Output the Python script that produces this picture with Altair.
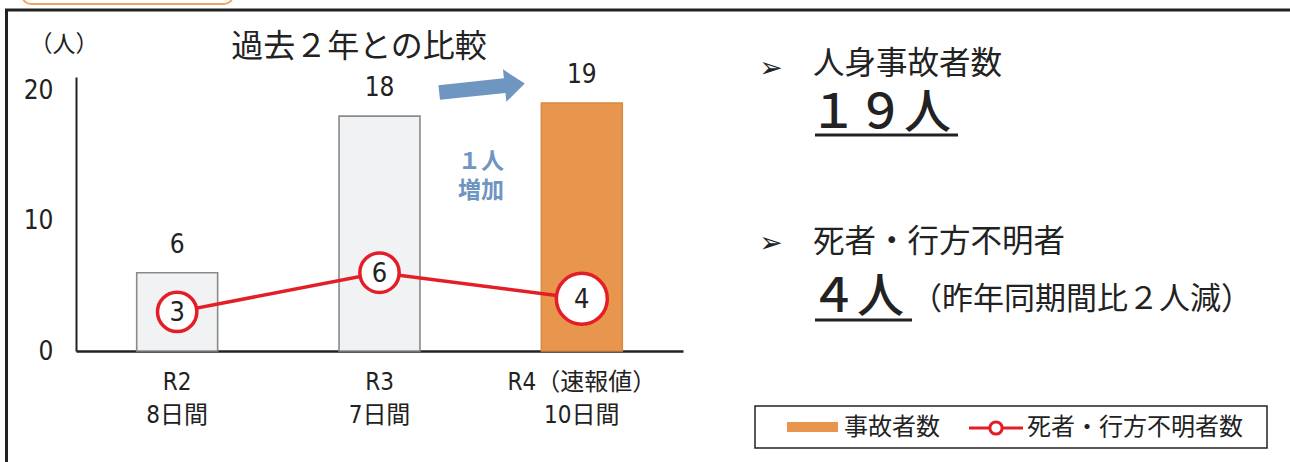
import altair as alt
import pandas as pd

# ---- data ----
periods = ["R2", "R3", "R4（速報値）"]
day_counts = ["8日間", "7日間", "10日間"]
casualties = [6, 18, 19]          # 人身事故者数
deaths_missing = [3, 6, 4]        # 死者・行方不明者数
y_ticks = [0, 10, 20]

title_text = "過去２年との比較"
unit_text = "（人）"
change_text = "１人\n増加"
summary_head1 = "人身事故者数"
summary_val1 = "１９人"
summary_head2 = "死者・行方不明者"
summary_val2 = "４人"
summary_note2 = "（昨年同期間比２人減）"
legend_bar = "事故者数"
legend_line = "死者・行方不明者数"

df = pd.DataFrame({
    "period": periods,
    "label": [p + "|" + d for p, d in zip(periods, day_counts)],
    "casualties": casualties,
    "deaths": deaths_missing,
})

NUM_FONT = "Liberation Sans Narrow, DejaVu Sans Condensed, Noto Sans CJK JP"
JP_FONT = "Noto Sans CJK JP"
ORANGE = "#e8964e"
GRAY_FILL = "#f1f2f4"
GRAY_STROKE = "#8a8a8a"
RED = "#e41e26"
BLUE = "#6f95c1"
OX, OY = 76, 77  # plot origin in page pixels

labels = df["label"].tolist()
x_enc = alt.X("label:N", sort=labels,
              scale=alt.Scale(paddingInner=0.6, paddingOuter=0.3),
              axis=alt.Axis(title=None, labelExpr="split(datum.label, '|')",
                            labelAngle=0, labelFontSize=24, labelLineHeight=33,
                            labelPadding=19, labelFont=NUM_FONT, labelColor="#222",
                            ticks=False, domainColor="#222", domainWidth=2.5))
y_enc = alt.Y("casualties:Q", scale=alt.Scale(domain=[0, 21], nice=False),
              axis=alt.Axis(title=None, values=y_ticks, grid=False, ticks=False,
                            labelFontSize=26, labelPadding=23, labelFont=NUM_FONT,
                            labelColor="#222", domainColor="#222", domainWidth=2))

base = alt.Chart(df)

bars = base.mark_bar(strokeWidth=1.6).encode(
    x=x_enc, y=y_enc,
    color=alt.Color("period:N", scale=alt.Scale(domain=periods,
                    range=[GRAY_FILL, GRAY_FILL, ORANGE]), legend=None),
    stroke=alt.Stroke("period:N", scale=alt.Scale(domain=periods,
                      range=[GRAY_STROKE, GRAY_STROKE, "#d98a48"]), legend=None),
)

bar_text = base.mark_text(dy=-28, fontSize=26, font=NUM_FONT, color="#222").encode(
    x=alt.X("label:N", sort=labels), y="casualties:Q", text="casualties:Q")

line = base.mark_line(color=RED, strokeWidth=3.5).encode(
    x=alt.X("label:N", sort=labels), y="deaths:Q")

points = base.mark_point(shape="circle", filled=False, fill="white", fillOpacity=1,
                         stroke=RED, strokeWidth=3.5, opacity=1).encode(
    x=alt.X("label:N", sort=labels), y="deaths:Q",
    size=alt.condition(alt.datum.period == periods[-1], alt.value(2600), alt.value(1550)),
)

point_text = base.mark_text(fontSize=27, font=NUM_FONT, color="#222", dy=1).encode(
    x=alt.X("label:N", sort=labels), y="deaths:Q", text="deaths:Q")


def txt(text, px, py, size, align="left", font=JP_FONT, color="#222", weight="normal",
        line_height=None):
    extra = {"lineBreak": "\n", "lineHeight": line_height} if line_height else {}
    return alt.Chart(pd.DataFrame({"t": [text]})).mark_text(
        align=align, baseline="middle", fontSize=size, font=font, color=color,
        fontWeight=weight, **extra).encode(
        x=alt.value(px - OX), y=alt.value(py - OY), text="t:N")


def rule(x1, y1, x2, y2, color="#222", width=2.5):
    return alt.Chart(pd.DataFrame({"a": [0]})).mark_rule(
        color=color, strokeWidth=width).encode(
        x=alt.value(x1 - OX), x2=alt.value(x2 - OX),
        y=alt.value(y1 - OY), y2=alt.value(y2 - OY))


def box(x1, y1, x2, y2, stroke, width, fill="white", radius=0):
    return alt.Chart(pd.DataFrame({"a": [0]})).mark_rect(
        stroke=stroke, strokeWidth=width, fill=fill, cornerRadius=radius).encode(
        x=alt.value(x1 - OX), x2=alt.value(x2 - OX),
        y=alt.value(y1 - OY), y2=alt.value(y2 - OY))


# frame and tab
frame = [
    box(22, -30, 233, 4, "#f0a45e", 2, radius=9),
    rule(5, 10, 1290, 10, width=3),
    rule(6.5, 10, 6.5, 462, width=3),
]

# arrow
arrow_path = "M-1,-0.17 L0.53,-0.17 L0.53,-0.38 L1,0 L0.53,0.38 L0.53,0.17 L-1,0.17 Z"
arrow = alt.Chart(pd.DataFrame({"a": [0]})).mark_point(
    shape=arrow_path, filled=True, color=BLUE, opacity=1, size=7400, angle=354).encode(
    x=alt.value(482 - OX), y=alt.value(88 - OY))

annotations = [
    txt(unit_text, 64, 45, 23, align="center"),
    txt(title_text, 359, 47, 32, align="center"),
    txt(change_text, 481, 162, 23, align="center", color=BLUE, weight="bold",
        line_height=29),
    # right panel
    txt("➢", 771, 69, 28, align="center", font="DejaVu Sans"),
    txt(summary_head1, 813, 65, 31.5),
    txt(summary_val1, 810, 114, 47, weight=500),
    rule(815, 135, 958, 135, width=3),
    txt("➢", 771, 244, 28, align="center", font="DejaVu Sans"),
    txt(summary_head2, 813, 243, 31.5),
    txt(summary_val2, 810, 298, 47, weight=500),
    rule(815, 320, 912, 320, width=3),
    txt(summary_note2, 911, 300, 31),
    # legend
    box(755, 406, 1267, 448, "#222", 1.5),
    rule(787, 427, 838, 427, color=ORANGE, width=10),
    txt(legend_bar, 844, 428, 24),
    rule(969, 428, 1023, 428, color=RED, width=3),
]
legend_dot = alt.Chart(pd.DataFrame({"a": [0]})).mark_point(
    shape="circle", filled=False, fill="white", fillOpacity=1, stroke=RED,
    strokeWidth=3, size=150, opacity=1).encode(
    x=alt.value(996 - OX), y=alt.value(428 - OY))
annotations += [legend_dot, txt(legend_line, 1027, 428, 24)]

chart = alt.layer(
    *frame, bars, bar_text, line, points, point_text, arrow, *annotations
).properties(
    width=607, height=274,
    autosize=alt.AutoSizeParams(type="none"),
    padding={"left": OX, "top": OY, "right": 1290 - OX - 607, "bottom": 462 - OY - 274},
    background="white",
).configure_view(stroke=None)

chart.save("out.html", embed_options={"renderer": "svg", "actions": False})
